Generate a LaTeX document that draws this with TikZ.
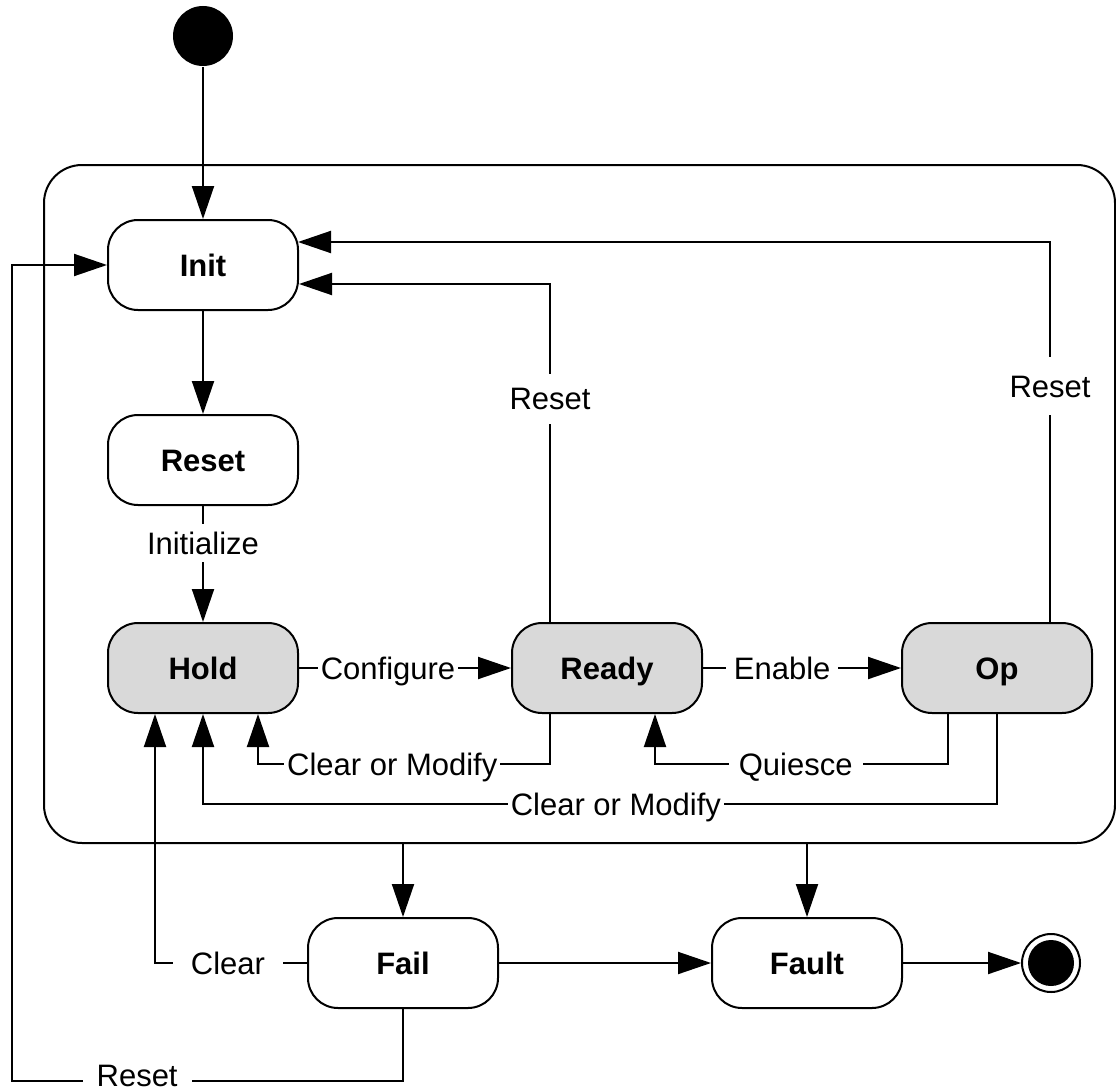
\documentclass[tikz,border=0pt]{standalone}
\usepackage{fontspec}
\setmainfont{Liberation Sans}
\usetikzlibrary{arrows.meta,calc}
\definecolor{stategray}{HTML}{D9D9D9}
\begin{document}
\begin{tikzpicture}[x=1pt,y=-1pt,
  line width=2pt,
  arr/.style={-{Triangle[length=33pt,width=22pt]}},
  state/.style={draw, line width=2pt, rounded corners=30pt, minimum width=190pt, minimum height=90pt, fill=white, text height=22pt, text depth=0pt, font=\fontsize{31}{37}\selectfont\bfseries},
  active/.style={state, fill=stategray},
  lbl/.style={fill=white, font=\fontsize{31}{37}\selectfont, text height=22pt, text depth=0pt, inner xsep=3pt, inner ysep=6pt}
]
\useasboundingbox (0,0) rectangle (1116,1089);

% container
\node[draw, line width=2pt, rounded corners=38pt, minimum width=1071pt, minimum height=678pt, inner sep=0pt] (box) at (579.5,504) {};

% states
\node[circle, fill=black, minimum size=60pt, inner sep=0pt] (start) at (203,36) {};
\node[state] (init) at (203,265) {Init};
\node[state] (reset) at (203,460) {Reset};
\node[active] (hold) at (203,668) {Hold};
\node[active] (ready) at (607,668) {Ready};
\node[active] (op) at (997,668) {Op};
\node[state] (fail) at (403,963) {Fail};
\node[state] (fault) at (807,963) {Fault};
\node[circle, draw, line width=2pt, fill=white, minimum size=58pt, inner sep=0pt] (end) at (1051,963) {};
\node[circle, fill=black, minimum size=46pt, inner sep=0pt] (endin) at (end.center) {};

% transitions
\draw[arr] (start) -- (init);
\draw[arr] (init) -- (reset);
\draw[arr] (reset) -- node[lbl,pos=0.32,inner ysep=8pt]{Initialize} (hold);
\draw[arr] (hold) -- node[lbl,pos=0.42]{Configure} (ready);
\draw[arr] (ready) -- node[lbl,pos=0.4,inner xsep=8pt]{Enable} (op);
\draw[arr] ($(ready.north)+(-57,0)$) |- node[lbl,pos=0.33,inner ysep=14pt]{Reset} ($(init.east)+(0,19)$);
\draw[arr] ($(op.north)+(53,0)$) |- node[lbl,pos=0.31,inner ysep=18pt]{Reset} ($(init.east)+(-1,-23)$);
\draw[arr] ($(ready.south)+(-57,0)$) -- ++(0,50) -| node[lbl,pos=0.27]{Clear or Modify} ($(hold.south)+(55,0)$);
\draw[arr] ($(op.south)+(-49,0)$) -- ++(0,50) -| node[lbl,pos=0.26,inner xsep=10pt]{Quiesce} ($(ready.south)+(48,0)$);
\draw[arr] (op.south) -- ++(0,90) -| node[lbl,pos=0.24]{Clear or Modify} (hold.south);
\draw[arr] (box.south -| fail.north) -- (fail.north);
\draw[arr] (box.south -| fault.north) -- (fault.north);
\draw[arr] (fail.west) -| node[lbl,pos=0.26,inner xsep=18pt]{Clear} ($(hold.south)+(-48,0)$);
\draw[arr] (fail.south) -- ++(0,72) -| node[lbl,pos=0.34,inner xsep=14pt,inner ysep=2pt,yshift=6pt]{Reset} ([xshift=-95pt]init.west) -- (init.west);
\draw[arr] (fail) -- (fault);
\draw[arr] (fault) -- (end);
\end{tikzpicture}
\end{document}
